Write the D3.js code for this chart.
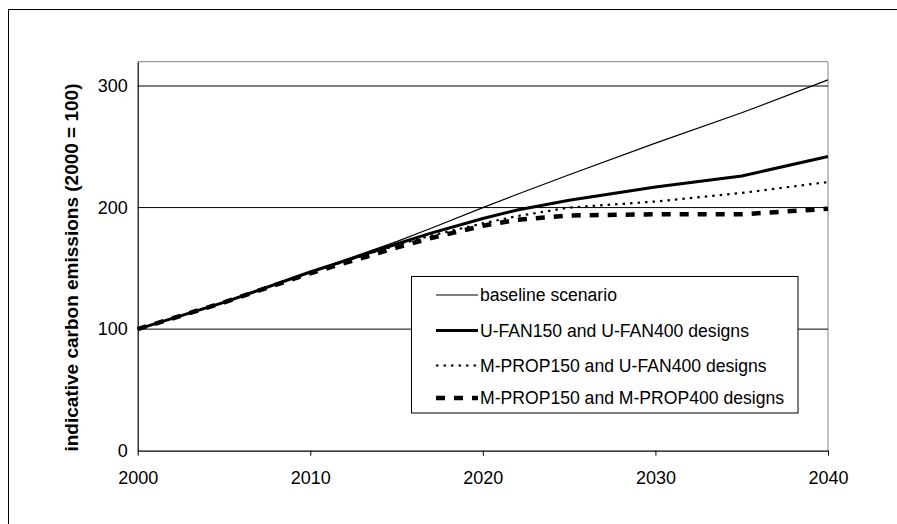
<!DOCTYPE html>
<html>
<head>
<meta charset="utf-8">
<script src="https://cdn.jsdelivr.net/npm/d3@7"></script>
<style>
  html, body { margin: 0; padding: 0; background: #fff; }
  svg { display: block; font-family: "Liberation Sans", Arial, sans-serif; }
</style>
</head>
<body>
<svg id="chart" width="897" height="524"></svg>
<script>
// ---- data ----
const years = [2000, 2005, 2010, 2015, 2017, 2020, 2022, 2025, 2030, 2035, 2040];
const baseline = [100, 122, 147, 172, 183, 200, 211, 227, 253, 278, 305];
const uFan = [100, 122, 147, 170, 179, 191, 198, 206, 217, 226, 242];
const mPropUFan = [100, 122, 147, 169, 177, 187, 193, 200, 205, 212, 221];
const mPropMProp = [100, 122, 146, 167, 175, 185, 190, 193.5, 194.5, 194.5, 199];
const seriesNames = [
  "baseline scenario",
  "U-FAN150 and U-FAN400 designs",
  "M-PROP150 and U-FAN400 designs",
  "M-PROP150 and M-PROP400 designs"
];
const xTicks = [2000, 2010, 2020, 2030, 2040];
const yTicks = [0, 100, 200, 300];
const yTitle = "indicative carbon emissions (2000 = 100)";

(function () {
// ---- styles ----
const styles = [
  { width: 1.2, dash: null },
  { width: 3, dash: null },
  { width: 2.2, dash: "2.5,5" },
  { width: 4.5, dash: "9,9" }
];
const seriesValues = [baseline, uFan, mPropUFan, mPropMProp];

const svg = d3.select("#chart");
const pL = 137.7, pR = 828, pT = 61.7, pB = 450.7;
const x = d3.scaleLinear().domain([2000, 2040]).range([pL, pR]);
const y = d3.scaleLinear().domain([0, 320]).range([pB, pT]);

// outer frame (top and left)
svg.append("line").attr("x1", 8).attr("x2", 897).attr("y1", 9.5).attr("y2", 9.5)
  .attr("stroke", "#000").attr("stroke-width", 1);
svg.append("line").attr("x1", 8.5).attr("x2", 8.5).attr("y1", 9).attr("y2", 524)
  .attr("stroke", "#000").attr("stroke-width", 1);

// plot area border top/right
svg.append("line").attr("x1", pL).attr("x2", pR).attr("y1", pT).attr("y2", pT)
  .attr("stroke", "#999").attr("stroke-width", 1.2);
svg.append("line").attr("x1", pR).attr("x2", pR).attr("y1", pT).attr("y2", pB)
  .attr("stroke", "#999").attr("stroke-width", 1.2);

// gridlines
svg.append("g").selectAll("line").data(yTicks.filter(d => d > 0)).join("line")
  .attr("x1", pL).attr("x2", pR)
  .attr("y1", d => y(d)).attr("y2", d => y(d))
  .attr("stroke", "#000").attr("stroke-width", 1);

// y axis
const yAxis = d3.axisLeft(y).tickValues(yTicks).tickSize(0).tickPadding(10);
const gy = svg.append("g").attr("transform", `translate(${pL},0)`).call(yAxis);
gy.select(".domain").attr("stroke", "#000").attr("stroke-width", 1.2);
gy.selectAll("text").attr("font-size", 18).attr("fill", "#000")
  .attr("font-family", "Liberation Sans, Arial, sans-serif");

// x axis
const xAxis = d3.axisBottom(x).tickValues(xTicks).tickFormat(d3.format("d"))
  .tickSize(5).tickSizeOuter(0).tickPadding(16);
const gx = svg.append("g").attr("transform", `translate(0,${pB})`).call(xAxis);
gx.select(".domain").attr("stroke", "#000").attr("stroke-width", 1.2);
gx.selectAll(".tick line").attr("stroke", "#000");
gx.selectAll("text").attr("font-size", 18).attr("fill", "#000")
  .attr("font-family", "Liberation Sans, Arial, sans-serif");

// y title
svg.append("text")
  .attr("transform", `translate(78,267.5) rotate(-90)`)
  .attr("text-anchor", "middle")
  .attr("font-size", 19).attr("font-weight", "bold")
  .text(yTitle);

// lines
const line = d3.line().x((d, i) => x(years[i])).y(d => y(d));
seriesValues.forEach((vals, k) => {
  svg.append("path")
    .datum(vals)
    .attr("d", line)
    .attr("fill", "none")
    .attr("stroke", "#000")
    .attr("stroke-width", styles[k].width)
    .attr("stroke-dasharray", styles[k].dash)
    .attr("stroke-linejoin", "round");
});

// legend
const lg = svg.append("g");
lg.append("rect").attr("x", 411.5).attr("y", 276.5).attr("width", 386.5).attr("height", 136.5)
  .attr("fill", "#fff").attr("stroke", "#000").attr("stroke-width", 1);
const rowY = [295, 330.5, 365.5, 398];
seriesNames.forEach((name, k) => {
  lg.append("line").attr("x1", 436).attr("x2", 478).attr("y1", rowY[k]).attr("y2", rowY[k])
    .attr("stroke", "#000").attr("stroke-width", styles[k].width)
    .attr("stroke-dasharray", styles[k].dash);
  lg.append("text").attr("x", 480).attr("y", rowY[k]).attr("dy", "0.35em")
    .attr("font-size", 17.6).text(name);
});
})();
</script>
</body>
</html>
